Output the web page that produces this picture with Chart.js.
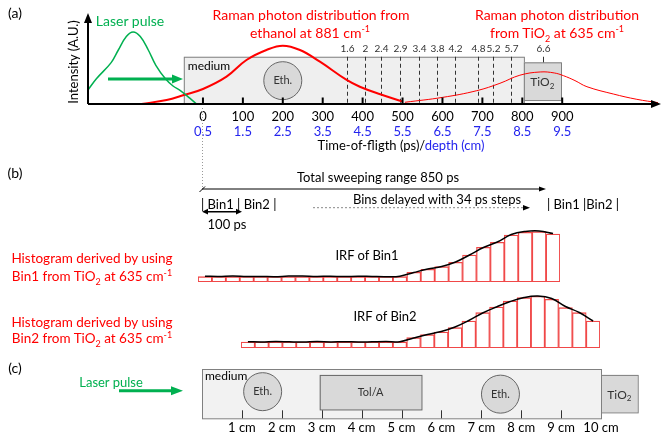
<!DOCTYPE html>
<html>
<head>
<meta charset="utf-8">
<script src="https://cdn.jsdelivr.net/npm/chart.js@4.4.0/dist/chart.umd.min.js"></script>
<style>
  body { margin: 0; width: 662px; height: 439px; position: relative; overflow: hidden; background: #fff; font-family: Lato, "Open Sans", sans-serif; }
  canvas { position: absolute; }
  svg { position: absolute; left: 0; top: 0; }
  .t { position: absolute; white-space: nowrap; transform: translate(-50%, -50%); font-size: 13px; line-height: 1; }
  .l { transform: translate(0, -50%); }
  .red { color: #ff0000; }
  .green { color: #00b050; }
  .blue { color: #2424ee; }
  sup, sub { font-size: 9px; line-height: 0; }
</style>
</head>
<body>
<canvas id="chartA" width="662" height="150" style="left:0;top:0"></canvas>
<canvas id="hist1" width="362" height="55" style="left:198px;top:227px"></canvas>
<canvas id="hist2" width="359" height="55" style="left:241px;top:293px"></canvas>
<canvas id="chartC" width="662" height="99" style="left:0;top:340px"></canvas>

<svg width="662" height="439">
  <!-- (a) laser arrow -->
  <line x1="108" y1="79" x2="174" y2="79" stroke="#00b050" stroke-width="3"/>
  <polygon points="172,74.5 183,79 172,83.5" fill="#00b050"/>
  <!-- (b) -->
  <line x1="202.5" y1="108" x2="202.5" y2="188" stroke="#999" stroke-dasharray="1,2"/>
  <line x1="202" y1="189" x2="541" y2="189" stroke="#000" stroke-width="1"/>
  <polygon points="539,186.5 546,189 539,191.5" fill="#000"/>
  <line x1="199.5" y1="192" x2="205" y2="186.5" stroke="#000" stroke-width="1"/>
  <line x1="205" y1="211.7" x2="239" y2="211.7" stroke="#000" stroke-width="1.5"/>
  <polygon points="202,211.7 208,208.8 208,214.6" fill="#000"/>
  <polygon points="242,211.7 236,208.8 236,214.6" fill="#000"/>
  <line x1="313" y1="207.7" x2="525" y2="207.7" stroke="#888" stroke-dasharray="2,2"/>
  <polygon points="523,205 530,207.7 523,210.4" fill="#000"/>
  <!-- (c) laser arrow -->
  <line x1="119" y1="390.7" x2="173" y2="390.7" stroke="#00b050" stroke-width="3"/>
  <polygon points="171,386.2 183,390.7 171,395.2" fill="#00b050"/>
</svg>

<div class="t" style="left:15px;top:13px;font-size:14px">(a)</div>
<div class="t green" style="left:130px;top:21px;font-size:14px">Laser pulse</div>
<div class="t red" style="left:311px;top:15px;font-size:14px">Raman photon distribution from</div>
<div class="t red" style="left:310px;top:33px;font-size:14px">ethanol at 881 cm<sup>-1</sup></div>
<div class="t red" style="left:557px;top:15px;font-size:14px">Raman photon distribution</div>
<div class="t red" style="left:557px;top:33px;font-size:14px">from TiO<sub>2</sub> at 635 cm<sup>-1</sup></div>
<div class="t" style="left:73px;top:62px;transform:translate(-50%,-50%) rotate(-90deg)">Intensity (A.U.)</div>
<div class="t" style="left:401px;top:145px">Time-of-fligth (ps)/<span class="blue">depth (cm)</span></div>

<div class="t" style="left:15px;top:173px;font-size:14px">(b)</div>
<div class="t" style="left:378px;top:177px">Total sweeping range 850 ps</div>
<div class="t l" style="left:201px;top:204px">| Bin1 | Bin2 |</div>
<div class="t" style="left:227px;top:224px">100 ps</div>
<div class="t" style="left:437px;top:199px">Bins delayed with 34 ps steps</div>
<div class="t l" style="left:547px;top:204px">| Bin1 |Bin2 |</div>
<div class="t red" style="left:92px;top:259px;font-size:13.5px">Histogram derived by using</div>
<div class="t red" style="left:92px;top:277px;font-size:13.5px">Bin1 from TiO<sub>2</sub> at 635 cm<sup>-1</sup></div>
<div class="t" style="left:367px;top:255px">IRF of Bin1</div>
<div class="t red" style="left:92px;top:323px;font-size:13.5px">Histogram derived by using</div>
<div class="t red" style="left:92px;top:339px;font-size:13.5px">Bin2 from TiO<sub>2</sub> at 635 cm<sup>-1</sup></div>
<div class="t" style="left:385px;top:316px">IRF of Bin2</div>

<div class="t" style="left:15px;top:368px;font-size:14px">(c)</div>
<div class="t green" style="left:111px;top:382px">Laser pulse</div>

<script>
// panel (a): time axis (ps) and matching depth axis (cm)
const psTicks = [0, 100, 200, 300, 400, 500, 600, 700, 800, 900];
const depthTicks = [0.5, 1.5, 2.5, 3.5, 4.5, 5.5, 6.5, 7.5, 8.5, 9.5];

// laser pulse (green)
const laserPs = [-288, -267, -230, -212, -192, -175, -157, -137, -118, -94, -75, -55, -33, -16];
const laserInt = [15.6, 28, 46, 60, 75, 80, 75, 60, 43, 28, 20, 14.4, 6.5, 0];

// Raman distribution from ethanol (red, thick)
const ethPs = [-154, -91, -48, 0, 59, 109, 159, 200, 243, 293, 360, 393, 444, 501];
const ethInt = [0, 4.5, 10, 16.7, 30.4, 48.9, 60, 64.8, 60, 47, 26.7, 19.2, 10.8, 2.6];

// Raman distribution from TiO2 (red, thin)
const tioPs = [506, 601, 686, 744, 794, 845, 880, 903, 932, 962, 1028, 1087, 1140];
const tioInt = [1.9, 7.4, 14.8, 23, 32, 35.6, 34.5, 31.5, 26, 19.2, 11.1, 5.2, 1.5];

// dashed markers inside the medium
const markerPs = [361, 406, 446, 494, 541, 586, 632, 689, 727, 772];
const markerLabels = ['1.6', '2', '2.4', '2.9', '3.4', '3.8', '4.2', '4.8', '5.2', '5.7'];
const tioMarkerPs = 852;
const tioMarkerLabel = '6.6';

// panel (b): histograms, 26 bins each
const binLabels = Array.from({ length: 26 }, (_, i) => 'bin ' + (i + 1));
const bin1Counts = [5.3, 5.3, 5.3, 5.3, 5.3, 5.3, 5.3, 5.3, 5.3, 5.3, 5.3, 5.3, 5.3, 5.3, 5.3,
  9.7, 12.7, 15.3, 19.7, 27, 34.7, 39.7, 47, 49.7, 50.3, 48];
const bin1Irf = [5.8, 5.6, 6, 5.5, 5.6, 5.3, 5.9, 6, 5.6, 5.8, 5.4, 5.8, 5.5, 5.3, 5.8,
  9.5, 13, 15.5, 20, 27, 34.5, 40, 47.5, 50.5, 51, 48.5];
const bin2Counts = [6, 6, 6, 6, 6, 6, 6, 6, 6, 6, 6, 6,
  10.3, 13.3, 16, 20.3, 27, 35.3, 41, 47, 50.3, 51.7, 48.7, 40.3, 35.3, 27];
const bin2Irf = [6.3, 6, 6.5, 6.2, 6, 6.4, 6.1, 6.3, 6, 6.2, 6.4, 6.3,
  10, 13.5, 16.5, 21, 27.5, 35, 41, 46.5, 50.5, 52, 49.5, 41.5, 35.5, 27];

// panel (c): depth axis
const cmTicks = [1, 2, 3, 4, 5, 6, 7, 8, 9, 10];

const FONT = 'Lato, "Open Sans", sans-serif';
Chart.defaults.font.family = FONT;
Chart.defaults.color = '#000';

function toXY(xs, ys) {
  return xs.map((v, i) => ({ x: v, y: ys[i] }));
}

function circle(ctx, x, y, r, label) {
  ctx.beginPath();
  ctx.arc(x, y, r, 0, Math.PI * 2);
  ctx.fillStyle = '#d9d9d9';
  ctx.fill();
  ctx.strokeStyle = '#666';
  ctx.lineWidth = 1;
  ctx.stroke();
  ctx.fillStyle = '#333';
  ctx.font = '11px ' + FONT;
  ctx.textAlign = 'center';
  ctx.textBaseline = 'middle';
  ctx.fillText(label, x, y);
}

function tioText(ctx, x, y) {
  ctx.fillStyle = '#333';
  ctx.textBaseline = 'middle';
  ctx.font = '12px ' + FONT;
  const w1 = ctx.measureText('TiO').width;
  ctx.font = '8px ' + FONT;
  const w2 = ctx.measureText('2').width;
  const x0 = x - (w1 + w2) / 2;
  ctx.textAlign = 'left';
  ctx.font = '12px ' + FONT;
  ctx.fillText('TiO', x0, y);
  ctx.font = '8px ' + FONT;
  ctx.fillText('2', x0 + w1, y + 4);
}

const panelA = {
  id: 'panelA',
  beforeDatasetsDraw(chart) {
    const { ctx, scales: { x, y } } = chart;
    ctx.save();
    // medium
    const mx0 = x.getPixelForValue(-48), mx1 = x.getPixelForValue(804);
    const my0 = y.getPixelForValue(52.5), my1 = y.getPixelForValue(0);
    ctx.fillStyle = '#efefef';
    ctx.fillRect(mx0, my0, mx1 - mx0, my1 - my0);
    ctx.strokeStyle = '#808080';
    ctx.lineWidth = 1;
    ctx.strokeRect(mx0 + 0.5, my0 + 0.5, mx1 - mx0, my1 - my0);
    // TiO2 block
    const tx1 = x.getPixelForValue(897);
    const ty0 = y.getPixelForValue(46.3), ty1 = y.getPixelForValue(4.4);
    ctx.fillStyle = '#d9d9d9';
    ctx.fillRect(mx1, ty0, tx1 - mx1, ty1 - ty0);
    ctx.strokeRect(mx1 + 0.5, ty0 + 0.5, tx1 - mx1, ty1 - ty0);
    tioText(ctx, x.getPixelForValue(850), (ty0 + ty1) / 2 + 1);
    // dashed markers
    ctx.strokeStyle = '#333';
    ctx.setLineDash([4, 3]);
    ctx.font = '10px ' + FONT;
    ctx.textAlign = 'center';
    ctx.textBaseline = 'middle';
    markerPs.forEach((p, i) => {
      const px = Math.round(x.getPixelForValue(p)) + 0.5;
      ctx.beginPath();
      ctx.moveTo(px, my0);
      ctx.lineTo(px, my1);
      ctx.stroke();
      ctx.fillStyle = '#333';
      ctx.fillText(markerLabels[i], px, my0 - 8);
    });
    ctx.setLineDash([]);
    const t6 = Math.round(x.getPixelForValue(tioMarkerPs)) + 0.5;
    ctx.beginPath();
    ctx.moveTo(t6, my0);
    ctx.lineTo(t6, ty0);
    ctx.stroke();
    ctx.fillText(tioMarkerLabel, t6, my0 - 8);
    // ethanol inclusion
    circle(ctx, x.getPixelForValue(200), y.getPixelForValue(25.9), 19, 'Eth.');
    ctx.fillStyle = '#000';
    ctx.font = '12px ' + FONT;
    ctx.textAlign = 'left';
    ctx.fillText('medium', mx0 + 4, my0 + 9);
    ctx.restore();
  },
  afterDatasetsDraw(chart) {
    const { ctx, chartArea: a, scales: { x } } = chart;
    ctx.save();
    ctx.strokeStyle = '#000';
    ctx.fillStyle = '#000';
    ctx.lineWidth = 2;
    // tick marks pointing up
    psTicks.forEach(p => {
      const px = x.getPixelForValue(p);
      ctx.beginPath();
      ctx.moveTo(px, a.bottom);
      ctx.lineTo(px, a.bottom - 6.5);
      ctx.stroke();
    });
    // axes with arrows
    ctx.beginPath();
    ctx.moveTo(a.left, a.bottom);
    ctx.lineTo(a.right - 6, a.bottom);
    ctx.moveTo(a.left, a.bottom);
    ctx.lineTo(a.left, a.top + 6);
    ctx.stroke();
    ctx.beginPath();
    ctx.moveTo(a.right - 9, a.bottom - 4);
    ctx.lineTo(a.right + 1, a.bottom);
    ctx.lineTo(a.right - 9, a.bottom + 4);
    ctx.closePath();
    ctx.fill();
    ctx.beginPath();
    ctx.moveTo(a.left - 4, a.top + 9);
    ctx.lineTo(a.left, a.top - 1);
    ctx.lineTo(a.left + 4, a.top + 9);
    ctx.closePath();
    ctx.fill();
    ctx.restore();
  }
};

new Chart(document.getElementById('chartA'), {
  type: 'line',
  data: {
    datasets: [
      { data: toXY(laserPs, laserInt), borderColor: '#00b050', borderWidth: 1.5, tension: 0.4, pointRadius: 0 },
      { data: toXY(ethPs, ethInt), borderColor: '#ff0000', borderWidth: 2, tension: 0.4, pointRadius: 0 },
      { data: toXY(tioPs, tioInt), borderColor: '#ff0000', borderWidth: 1, tension: 0.4, pointRadius: 0 }
    ]
  },
  options: {
    responsive: false,
    animation: false,
    devicePixelRatio: 1,
    layout: { padding: { left: 88, right: 2, top: 14, bottom: 12 } },
    plugins: { legend: { display: false }, tooltip: { enabled: false } },
    scales: {
      x: {
        type: 'linear', position: 'bottom', min: -288, max: 1145,
        grid: { display: false, drawTicks: false }, border: { display: false },
        afterBuildTicks: s => { s.ticks = psTicks.map(v => ({ value: v })); },
        afterFit: s => { s.height = 20; },
        ticks: { padding: 5, autoSkip: false, maxRotation: 0, color: '#000', font: { size: 13 } }
      },
      x2: {
        type: 'linear', position: 'bottom', min: -2.38, max: 11.95,
        grid: { display: false, drawTicks: false }, border: { display: false },
        afterBuildTicks: s => { s.ticks = depthTicks.map(v => ({ value: v })); },
        afterFit: s => { s.height = 14; },
        ticks: { padding: 0, autoSkip: false, maxRotation: 0, color: '#2424ee', font: { size: 13 },
          callback: v => v.toFixed(1) }
      },
      y: { display: false, min: 0, max: 100 }
    }
  },
  plugins: [panelA]
});

function histogram(id, counts, irf) {
  new Chart(document.getElementById(id), {
    type: 'bar',
    data: {
      labels: binLabels,
      datasets: [
        { type: 'line', data: irf, borderColor: '#000', borderWidth: 1.5, tension: 0.4, pointRadius: 0, clip: false, order: 1 },
        { data: counts, backgroundColor: 'rgba(255,255,255,0)', borderColor: '#f04848', borderWidth: 0.6,
          borderSkipped: false, barPercentage: 1, categoryPercentage: 1, order: 2 }
      ]
    },
    options: {
      responsive: false,
      animation: false,
      devicePixelRatio: 1,
      layout: { padding: 0 },
      plugins: { legend: { display: false }, tooltip: { enabled: false } },
      scales: {
        x: { display: false },
        y: { display: false, min: 0, max: 55 }
      }
    }
  });
}
histogram('hist1', bin1Counts, bin1Irf);
histogram('hist2', bin2Counts, bin2Irf);

const panelC = {
  id: 'panelC',
  afterDraw(chart) {
    const { ctx, chartArea: a, scales: { x, y } } = chart;
    ctx.save();
    ctx.lineWidth = 1;
    // medium
    ctx.fillStyle = '#f2f2f2';
    ctx.fillRect(a.left, a.top, a.right - a.left, a.bottom - a.top);
    ctx.strokeStyle = '#808080';
    ctx.strokeRect(a.left + 0.5, a.top + 0.5, a.right - a.left, a.bottom - a.top);
    // TiO2 block
    const tx0 = x.getPixelForValue(10), tx1 = x.getPixelForValue(10.92);
    const ty0 = y.getPixelForValue(0.88), ty1 = y.getPixelForValue(0.12);
    ctx.fillStyle = '#d9d9d9';
    ctx.fillRect(tx0, ty0, tx1 - tx0, ty1 - ty0);
    ctx.strokeRect(tx0 + 0.5, ty0 + 0.5, tx1 - tx0, ty1 - ty0);
    tioText(ctx, (tx0 + tx1) / 2, (ty0 + ty1) / 2 + 1);
    // Tol/A block
    const bx0 = x.getPixelForValue(2.95), bx1 = x.getPixelForValue(5.5);
    const by0 = y.getPixelForValue(0.88), by1 = y.getPixelForValue(0.18);
    ctx.fillStyle = '#d9d9d9';
    ctx.fillRect(bx0, by0, bx1 - bx0, by1 - by0);
    ctx.strokeStyle = '#666';
    ctx.strokeRect(bx0 + 0.5, by0 + 0.5, bx1 - bx0, by1 - by0);
    ctx.fillStyle = '#333';
    ctx.font = '11px ' + FONT;
    ctx.textAlign = 'center';
    ctx.textBaseline = 'middle';
    ctx.fillText('Tol/A', (bx0 + bx1) / 2, (by0 + by1) / 2);
    // ticks
    ctx.strokeStyle = '#333';
    cmTicks.slice(0, 9).forEach(c => {
      const px = Math.round(x.getPixelForValue(c)) + 0.5;
      ctx.beginPath();
      ctx.moveTo(px, a.bottom);
      ctx.lineTo(px, a.bottom - 8);
      ctx.stroke();
    });
    // ethanol inclusions
    circle(ctx, x.getPixelForValue(1.52), y.getPixelForValue(0.54), 19, 'Eth.');
    circle(ctx, x.getPixelForValue(7.48), y.getPixelForValue(0.49), 19, 'Eth.');
    ctx.fillStyle = '#000';
    ctx.font = '12px ' + FONT;
    ctx.textAlign = 'left';
    ctx.fillText('medium', a.left + 3, a.top + 7);
    ctx.restore();
  }
};

new Chart(document.getElementById('chartC'), {
  type: 'scatter',
  data: { datasets: [] },
  options: {
    responsive: false,
    animation: false,
    devicePixelRatio: 1,
    layout: { padding: { left: 202, right: 61, top: 29, bottom: 2.7 } },
    plugins: { legend: { display: false }, tooltip: { enabled: false } },
    scales: {
      x: {
        type: 'linear', min: 0, max: 10,
        grid: { display: false, drawTicks: false }, border: { display: false },
        afterBuildTicks: s => { s.ticks = cmTicks.map(v => ({ value: v })); },
        afterFit: s => { s.height = 18; },
        ticks: { padding: 2, autoSkip: false, maxRotation: 0, color: '#000', font: { size: 13 },
          callback: v => v + ' cm' }
      },
      y: { display: false, min: 0, max: 1 }
    }
  },
  plugins: [panelC]
});
</script>
</body>
</html>
